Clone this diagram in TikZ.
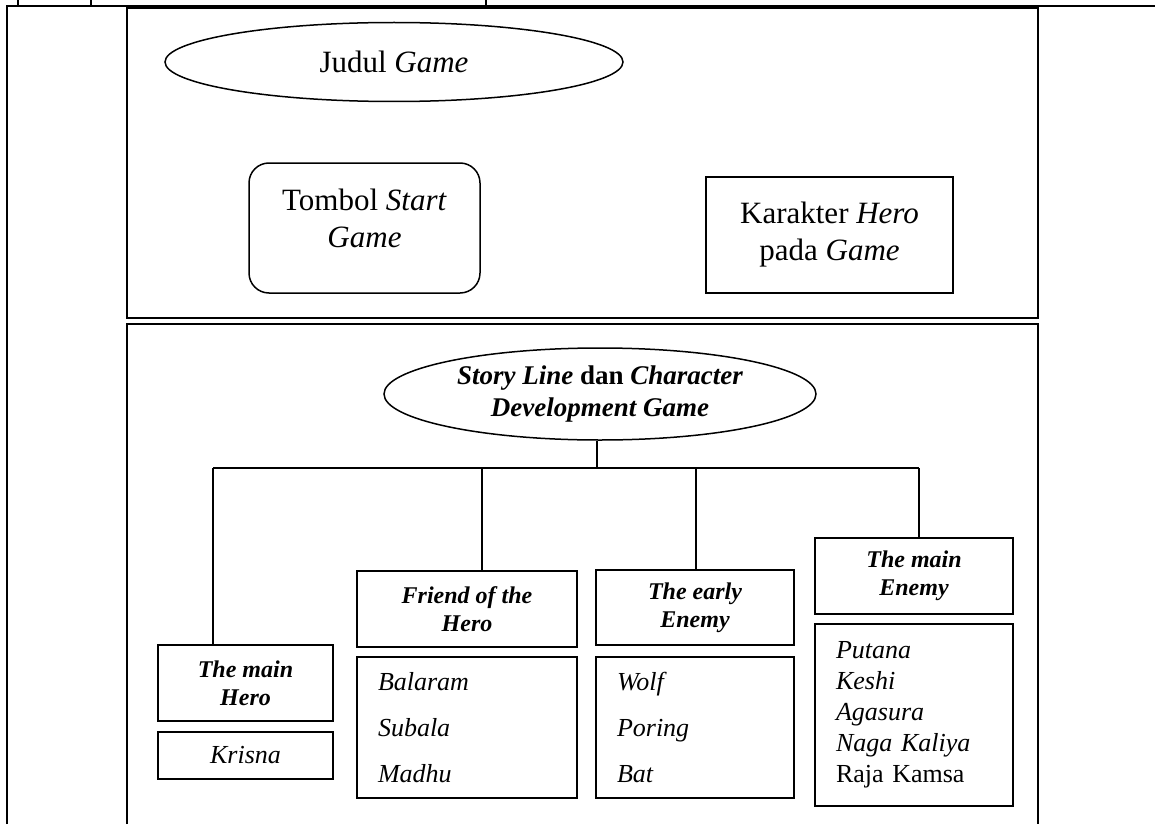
\documentclass[tikz,border=0pt]{standalone}
\usepackage{fontspec}
\setmainfont{Liberation Serif}
\usetikzlibrary{shapes.geometric}

\begin{document}
\begin{tikzpicture}[x=1pt, y=-1pt, line width=1.5pt,
  box/.style={draw, rectangle, inner sep=0pt, align=center},
  big/.style={font=\fontsize{31}{37}\selectfont},
  head/.style={box, font=\fontsize{24}{28}\selectfont\bfseries\itshape},
  list/.style={box, inner xsep=21pt, align=left, font=\fontsize{26}{46}\selectfont\itshape}]
\useasboundingbox (0,0) rectangle (1155,824);

\draw (7,824) -- (7,6) -- (1155,6);
\foreach \x in {18,91,486}
  \draw (\x,0) -- (\x,6);
\draw (127,8) rectangle (1038,318);
\draw (127,824) -- (127,324) -- (1038,324) -- (1038,824);

\node[draw, ellipse, big, inner sep=0pt, minimum width=458pt, minimum height=79pt] (judul) at (394,62) {Judul \textit{Game}};
\node[box, big, rounded corners=20pt, text depth=19pt, minimum width=231pt, minimum height=130pt] (tombol) at (364.5,228) {Tombol \textit{Start}\\\textit{Game}};
\node[box, big, minimum width=247pt, minimum height=116pt] (karakter) at (829.5,235) {Karakter \textit{Hero}\\pada \textit{Game}};

\node[draw, ellipse, inner sep=0pt, align=center, minimum width=432pt, minimum height=92pt, font=\fontsize{27}{32}\selectfont\bfseries] (story) at (600,394) {\textit{Story Line} dan \textit{Character}\\\textit{Development Game}};

\node[head, minimum width=175pt, minimum height=76pt] (mainhero) at (245.5,683) {The main\\Hero};
\node[box, minimum width=175pt, minimum height=47pt, font=\fontsize{26}{30}\selectfont\itshape] (krisna) at (245.5,755.5) {Krisna};
\node[head, minimum width=220pt, minimum height=76pt] (friend) at (467,609) {Friend of the\\Hero};
\node[list, text width=178pt, minimum height=141pt] (friendlist) at (467,727.5) {Balaram\\Subala\\Madhu};
\node[head, minimum width=198pt, minimum height=75pt] (early) at (695,607.5) {The early\\Enemy};
\node[list, text width=156pt, minimum height=141pt] (earlylist) at (695,727.5) {Wolf\\Poring\\Bat};
\node[head, minimum width=198pt, minimum height=76pt] (mainenemy) at (914,576) {The main\\Enemy};
\node[list, text width=156pt, minimum height=182pt, font=\fontsize{26}{31}\selectfont\itshape] (enemylist) at (914,715) {Putana\\Keshi\\Agasura\\Naga Kaliya\\\upshape Raja Kamsa};

\coordinate (stem) at (597,468);
\coordinate (j1) at (213,468);
\coordinate (j2) at (482,468);
\coordinate (j3) at (696,468);
\coordinate (j4) at (919,468);
\draw (stem |- story.south) -- (stem);
\draw (j1) -- (j4);
\draw (j1) -- (j1 |- mainhero.north);
\draw (j2) -- (j2 |- friend.north);
\draw (j3) -- (j3 |- early.north);
\draw (j4) -- (j4 |- mainenemy.north);
\end{tikzpicture}
\end{document}
